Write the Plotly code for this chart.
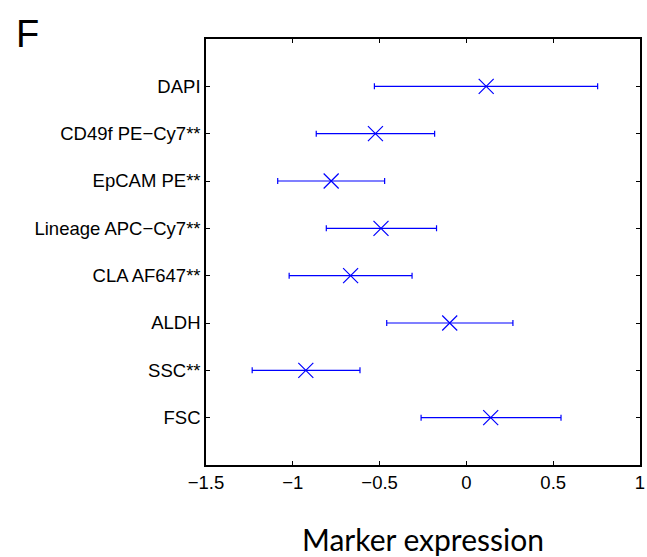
import plotly.graph_objects as go

# Marker names, bottom to top
markers = ["FSC", "SSC**", "ALDH", "CLA AF647**", "Lineage APC\u2212Cy7**",
           "EpCAM PE**", "CD49f PE\u2212Cy7**", "DAPI"]
# Point estimate and interval bounds for each marker
centers = [0.140, -0.925, -0.096, -0.667, -0.492, -0.779, -0.524, 0.114]
lower = [-0.261, -1.234, -0.459, -1.021, -0.807, -1.087, -0.865, -0.530]
upper = [0.545, -0.613, 0.268, -0.313, -0.172, -0.471, -0.183, 0.756]
x_ticks = [-1.5, -1, -0.5, 0, 0.5, 1]
x_tick_text = ["\u22121.5", "\u22121", "\u22120.5", "0", "0.5", "1"]

ypos = list(range(1, len(markers) + 1))
err_plus = [u - c for u, c in zip(upper, centers)]
err_minus = [c - l for c, l in zip(centers, lower)]

BLUE = "rgb(0,0,255)"
fig = go.Figure()
fig.add_trace(go.Scatter(
    x=centers, y=ypos, mode="markers",
    marker=dict(symbol="x-thin", size=15, line=dict(color=BLUE, width=1.2), color=BLUE),
    error_x=dict(type="data", symmetric=False, array=err_plus, arrayminus=err_minus,
                 color=BLUE, thickness=1.2, width=3),
    showlegend=False,
))

axis_font = dict(family="Liberation Sans, Arial, sans-serif", size=18.5, color="black")
fig.update_layout(
    width=647, height=557,
    margin=dict(l=206, r=2, t=39, b=92),
    paper_bgcolor="white", plot_bgcolor="white",
    xaxis=dict(
        range=[-1.5, 1], tickvals=x_ticks, ticktext=x_tick_text,
        ticks="inside", ticklen=4, tickcolor="black", tickwidth=1,
        showline=True, linecolor="black", linewidth=1.5, mirror="ticks",
        showgrid=False, zeroline=False, tickfont=axis_font,
        ticklabeloverflow="allow",
        title=dict(text="Marker expression",
                   font=dict(family="Lato, sans-serif", size=30, color="black"),
                   standoff=39),
    ),
    yaxis=dict(
        range=[0, 9], tickvals=ypos, ticktext=markers,
        ticks="inside", ticklen=4, tickcolor="black", tickwidth=1,
        showline=True, linecolor="black", linewidth=1.5, mirror="ticks",
        showgrid=False, zeroline=False, tickfont=axis_font,
    ),
    annotations=[dict(text="F", x=0, y=1, xref="paper", yref="paper",
                      xanchor="left", yanchor="top", showarrow=False,
                      xshift=-192, yshift=28,
                      font=dict(family="Liberation Sans, Arial, sans-serif", size=38, color="black"))],
)

fig.write_html("out.html")
